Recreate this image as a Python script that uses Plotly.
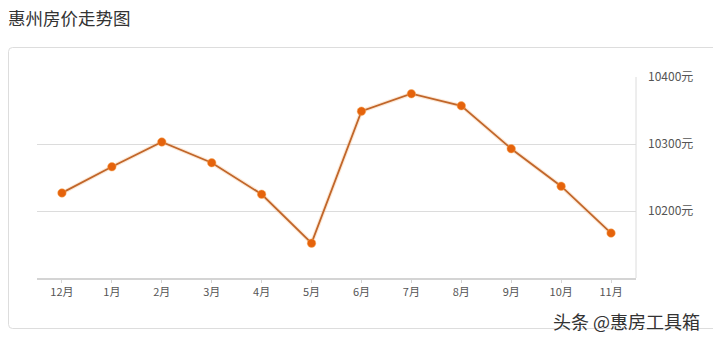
import plotly.graph_objects as go

months = ["12月", "1月", "2月", "3月", "4月", "5月", "6月", "7月", "8月", "9月", "10月", "11月"]
prices = [10227, 10266, 10303, 10272, 10225, 10152, 10349, 10375, 10357, 10293, 10237, 10167]
y_ticks = [10200, 10300, 10400]
y_tick_labels = ["10200元", "10300元", "10400元"]

W, H = 713, 341
L, R, T, B = 37, 77, 77, 63
PW, PH = W - L - R, H - T - B

def px(x):
    return (x - L) / PW

def py(y):
    return (H - B - y) / PH

fig = go.Figure()
# soft glow under the line
fig.add_trace(go.Scatter(x=months, y=prices, mode="lines",
                         line=dict(color="rgba(245,165,90,0.25)", width=4),
                         hoverinfo="skip", showlegend=False))
fig.add_trace(go.Scatter(x=months, y=prices, mode="lines+markers",
                         line=dict(color="#c1662a", width=1.8),
                         marker=dict(color="#e5630c", size=8.5,
                                     line=dict(color="rgba(250,170,90,0.5)", width=1)),
                         showlegend=False))

r = 4
x0, x1, y0, y1 = 8.5, 730, 47.5, 328.5
card_path = (f"M {x0 + r},{y0} L {x1},{y0} L {x1},{y1} L {x0 + r},{y1} "
             f"Q {x0},{y1} {x0},{y1 - r} L {x0},{y0 + r} Q {x0},{y0} {x0 + r},{y0} Z")

fig.update_layout(
    width=W, height=H,
    margin=dict(l=L, r=R, t=T, b=B),
    paper_bgcolor="white", plot_bgcolor="white",
    font=dict(family="Noto Sans CJK SC, sans-serif", color="#555"),
    xaxis=dict(type="category", range=[-0.5, 11.5], showgrid=False,
               showline=True, linecolor="#d4d4d4", linewidth=2,
               ticks="outside", ticklen=3, tickcolor="#d4d4d4",
               tickfont=dict(size=11, color="#555"), zeroline=False, fixedrange=True),
    yaxis=dict(range=[10100, 10400], side="right", tickvals=y_ticks, ticktext=y_tick_labels,
               showgrid=True, gridcolor="#dcdcdc", gridwidth=1, zeroline=False,
               showline=False, ticks="", ticklabelstandoff=11,
               tickfont=dict(size=12, color="#555"), fixedrange=True),
    shapes=[
        dict(type="path", xref="x domain", yref="y domain",
             path=" ".join(
                 tok if tok.isalpha() else tok for tok in card_path.split(" ")),
             line=dict(color="#dddddd", width=1), layer="below", visible=False),
        dict(type="line", xref="paper", yref="paper", x0=1, x1=1, y0=0, y1=1,
             line=dict(color="#dcdcdc", width=1), layer="below"),
    ],
    annotations=[
        dict(text="惠州房价走势图", xref="paper", yref="paper",
             x=px(6), y=py(18), xanchor="left", yanchor="middle", showarrow=False,
             font=dict(size=17.5, color="#333", family="Noto Sans CJK SC, sans-serif")),
        dict(text="头条 @惠房工具箱", xref="paper", yref="paper",
             x=px(702), y=py(321), xanchor="right", yanchor="middle", showarrow=False,
             font=dict(size=18, color="#333", family="Noto Sans CJK SC, sans-serif")),
    ],
)

# card border drawn in paper coordinates (converted from pixels)
def cp(x, y):
    return f"{px(x)},{py(y)}"

card = (f"M {cp(x0 + r, y0)} L {cp(x1, y0)} L {cp(x1, y1)} L {cp(x0 + r, y1)} "
        f"Q {cp(x0, y1)} {cp(x0, y1 - r)} L {cp(x0, y0 + r)} Q {cp(x0, y0)} {cp(x0 + r, y0)} Z")
fig.add_shape(type="path", xref="paper", yref="paper", path=card,
              line=dict(color="#dddddd", width=1), layer="below")

fig.write_html("out.html")
